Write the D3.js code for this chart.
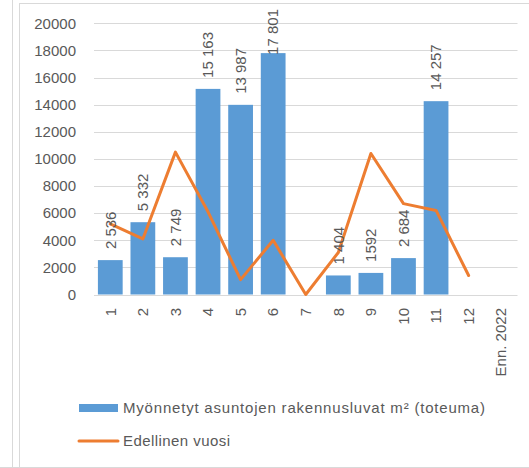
<!DOCTYPE html>
<html><head><meta charset="utf-8">
<script src="https://cdn.jsdelivr.net/npm/d3@7"></script>
<style>body{margin:0;background:#fff}svg{display:block}text{font-family:"Liberation Sans",Arial,sans-serif;fill:#595959}</style>
</head><body>
<script>
const categories = ["1","2","3","4","5","6","7","8","9","10","11","12","Enn. 2022"];
const permits = [2536, 5332, 2749, 15163, 13987, 17801, null, 1404, 1592, 2684, 14257, null, null];
const previousYear = [5200, 4100, 10500, 6100, 1100, 4000, 0, 3100, 10400, 6700, 6200, 1400, null];
const yTicks = [0, 2000, 4000, 6000, 8000, 10000, 12000, 14000, 16000, 18000, 20000];
const seriesNames = ["Myönnetyt asuntojen rakennusluvat m² (toteuma)", "Edellinen vuosi"];

const W = 529, H = 468;
const svg = d3.select("body").append("svg").attr("width", W).attr("height", H);

// frame lines
const frame = svg.append("g").attr("fill","none").attr("stroke","#d9d9d9");
frame.append("line").attr("x1",12.5).attr("x2",12.5).attr("y1",0).attr("y2",467);
frame.append("line").attr("x1",19.5).attr("x2",19.5).attr("y1",3).attr("y2",467);
frame.append("line").attr("x1",19.5).attr("x2",W).attr("y1",3.5).attr("y2",3.5);
frame.append("line").attr("x1",0).attr("x2",W).attr("y1",467.5).attr("y2",467.5);

const x = d3.scaleBand().domain(categories).range([94, 517.5]).paddingInner(0.24).paddingOuter(0.12);
const y = d3.scaleLinear().domain([0, 20000]).range([294.5, 23.3]);

// gridlines
svg.append("g").selectAll("line").data(yTicks).join("line")
  .attr("x1", 94).attr("x2", 517.5)
  .attr("y1", d => Math.round(y(d)) + 0.5).attr("y2", d => Math.round(y(d)) + 0.5)
  .attr("stroke", "#d9d9d9").attr("stroke-width", 1);

// y tick labels
svg.append("g").selectAll("text").data(yTicks).join("text")
  .attr("x", 76).attr("y", d => y(d)).attr("dy", "0.35em")
  .attr("text-anchor", "end").style("font-size", "15px")
  .text(d => d);

// bars
const barData = categories.map((c, i) => ({c, v: permits[i]})).filter(d => d.v != null);
svg.append("g").selectAll("rect").data(barData).join("rect")
  .attr("x", d => x(d.c)).attr("width", x.bandwidth())
  .attr("y", d => y(d.v)).attr("height", d => y(0) - y(d.v))
  .attr("fill", "#5b9bd5");

// line
const lineData = categories.map((c, i) => ({c, v: previousYear[i]})).filter(d => d.v != null);
svg.append("path").datum(lineData)
  .attr("d", d3.line().x(d => x(d.c) + x.bandwidth()/2).y(d => y(d.v)))
  .attr("fill", "none").attr("stroke", "#ed7d31").attr("stroke-width", 3)
  .attr("stroke-linejoin", "round").attr("stroke-linecap", "round");

// bar labels (clamped to stay inside the chart, like Excel)
const fmt = v => d3.format(",")(v).replace(/,/g, " ");
svg.append("g").selectAll("text").data(barData).join("text")
  .attr("dy", "0.35em").attr("text-anchor", "start").style("font-size", "15px")
  .text(d => d.v === 1592 ? "1592" : fmt(d.v))
  .each(function(d) {
    const len = this.getComputedTextLength();
    const start = Math.max(y(d.v) - 11, 9 + len);
    d3.select(this).attr("transform", `translate(${x(d.c) + x.bandwidth()/2},${start}) rotate(-90)`);
  });

// x tick labels
svg.append("g").selectAll("text").data(categories).join("text")
  .attr("transform", d => `translate(${x(d) + x.bandwidth()/2},308) rotate(-90)`)
  .attr("dy", "0.35em").attr("text-anchor", "end").style("font-size", "15px")
  .text(d => d);

// legend
const lg = svg.append("g");
lg.append("rect").attr("x", 79).attr("y", 404).attr("width", 39).attr("height", 8).attr("fill", "#5b9bd5");
lg.append("text").attr("x", 123).attr("y", 408).attr("dy", "0.35em").style("font-size", "15px")
  .attr("textLength", 362).attr("lengthAdjust", "spacing").text(seriesNames[0]);
lg.append("line").attr("x1", 79).attr("x2", 118).attr("y1", 441).attr("y2", 441)
  .attr("stroke", "#ed7d31").attr("stroke-width", 3).attr("stroke-linecap", "round");
lg.append("text").attr("x", 123).attr("y", 441).attr("dy", "0.35em").style("font-size", "15px")
  .attr("textLength", 107).attr("lengthAdjust", "spacing").text(seriesNames[1]);
</script>
</body></html>
